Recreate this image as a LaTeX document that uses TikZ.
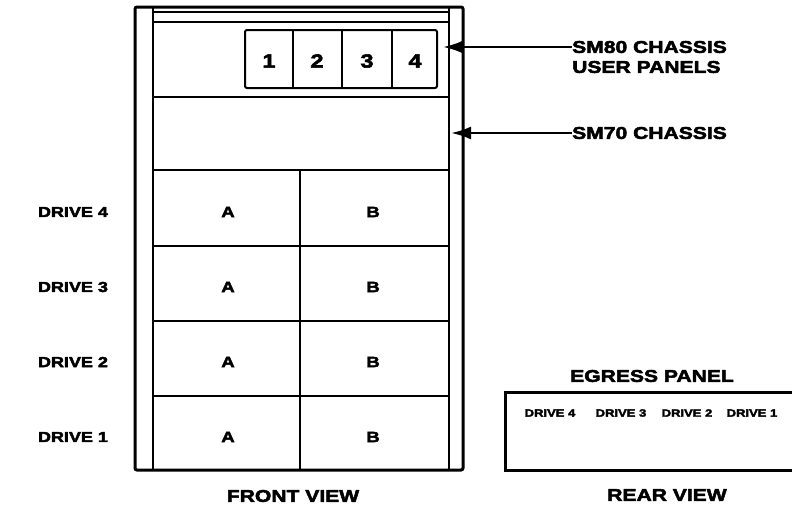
\documentclass[tikz,border=0pt]{standalone}
\usepackage{fontspec}
\newfontfamily\lblfont[FakeStretch=1.24, BoldFeatures={FakeBold=3}]{Liberation Sans}
\usetikzlibrary{arrows.meta,positioning}
\tikzset{
  every node/.style={font=\lblfont\bfseries, inner sep=0pt},
  biglabel/.style={font=\lblfont\bfseries\fontsize{17}{18}\selectfont},
  drivelabel/.style={font=\lblfont\bfseries\fontsize{14.5}{16}\selectfont},
  smalllabel/.style={font=\lblfont\bfseries\fontsize{10.5}{12}\selectfont},
  cell/.style={font=\lblfont\bfseries\fontsize{15}{16}\selectfont},
  panelnum/.style={font=\lblfont\bfseries\fontsize{19}{20}\selectfont},
  frame/.style={line width=3pt, rounded corners=2pt},
  rule/.style={line width=2pt},
  arrow/.style={-{Latex[length=20pt,width=13pt]}, line width=2.6pt},
}

\begin{document}
\begin{tikzpicture}[x=1pt,y=-1pt]
\useasboundingbox (0,0) rectangle (792,509);

% front view cabinet
\draw[frame] (135,7) rectangle (463,470);
\draw[rule] (153,7) -- (153,470);
\draw[rule] (449,7) -- (449,470);
\draw[line width=1.2pt] (153,12) -- (449,12);
\foreach \y in {22,97,170,246,321,396} \draw[rule] (153,\y) -- (449,\y);
\draw[rule] (300,170) -- (300,470);

% user panels
\draw[rule, rounded corners=2pt] (245,30) rectangle (437,88);
\foreach \x in {293,342,392} \draw[rule] (\x,30) -- (\x,88);
\node[panelnum] (p1) at (269,61) {1};
\node[panelnum] (p2) at (317,61) {2};
\node[panelnum] (p3) at (367,61) {3};
\node[panelnum] (p4) at (415,61) {4};

% drive bays
\foreach \n/\y in {4/212,3/287,2/362,1/437}{
  \node[cell] (a\n) at (228,\y) {A};
  \node[cell] (b\n) at (373,\y) {B};
  \node[drivelabel] (drive\n) at (73,\y) {DRIVE \n};
}

% callouts
\node[biglabel, anchor=west] (sm80) at (572,47) {SM80 CHASSIS};
\node[biglabel, anchor=west] (user) at (572,67) {USER PANELS};
\node[biglabel, anchor=west] (sm70) at (572,133) {SM70 CHASSIS};
\coordinate (sm80tip) at (443,47);
\coordinate (sm70tip) at (451,133);
\draw[arrow] (sm80.west) -- (sm80tip);
\draw[arrow] (sm70.west) -- (sm70tip);

% rear view
\node[biglabel] (egress) at (652,376) {EGRESS PANEL};
\draw[frame, rounded corners=0pt] (796,392) -- (505,392) -- (505,470) -- (796,470);
\node[smalllabel] (e4) at (550,413) {DRIVE 4};
\node[smalllabel] (e3) at (621,413) {DRIVE 3};
\node[smalllabel] (e2) at (687,413) {DRIVE 2};
\node[smalllabel] (e1) at (752,413) {DRIVE 1};

\node[biglabel] (front) at (293,496) {FRONT VIEW};
\node[biglabel] (rear) at (667,495) {REAR VIEW};
\end{tikzpicture}
\end{document}
